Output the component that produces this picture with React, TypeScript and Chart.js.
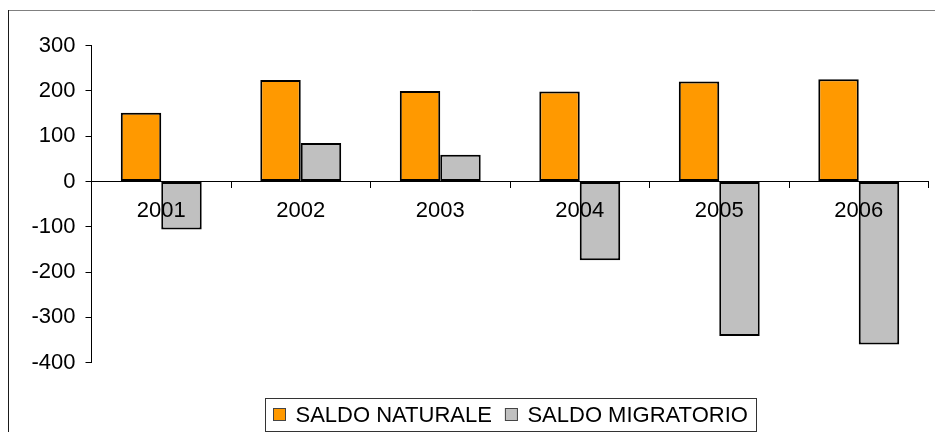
import React, { useEffect, useRef } from 'react';
import { Chart, registerables } from 'chart.js';

Chart.register(...registerables);

const categories = ['2001', '2002', '2003', '2004', '2005', '2006'];
const saldoNaturale = [152, 224, 200, 199, 221, 226];
const saldoMigratorio = [-106, 85, 59, -174, -341, -360];
const seriesLabels = ['SALDO NATURALE', 'SALDO MIGRATORIO'];
const seriesColors = ['#FF9900', '#C0C0C0'];
const yMin = -400;
const yMax = 300;
const yStep = 100;

const FONT = '"Liberation Sans", Arial, Helvetica, sans-serif';

const framePlugin = {
  id: 'frameAndLegend',
  afterDraw(chart: any) {
    const ctx = chart.ctx;
    ctx.save();
    // outer frame (top + left visible)
    ctx.lineWidth = 1;
    ctx.strokeStyle = '#808080';
    ctx.beginPath();
    ctx.moveTo(8, 10.5);
    ctx.lineTo(935, 10.5);
    ctx.stroke();
    ctx.strokeStyle = '#1a1a1a';
    ctx.beginPath();
    ctx.moveTo(8.5, 10);
    ctx.lineTo(8.5, 432);
    ctx.stroke();

    // boxed legend
    ctx.font = `22px ${FONT}`;
    const items = chart.data.datasets.map((ds: any) => ({
      label: ds.label as string,
      color: ds.backgroundColor as string,
      w: ctx.measureText(ds.label).width,
    }));
    const sw = 13;
    const gapText = 9.5;
    const gapItem = 13;
    const pad = 8;
    let total = pad * 2;
    items.forEach((it: any, i: number) => {
      total += sw + gapText + it.w + (i ? gapItem : 0);
    });
    const cx = (chart.chartArea.left + chart.chartArea.right) / 2;
    const x0 = Math.round(cx - total / 2);
    const top = 398.5;
    const bottom = 431.5;
    ctx.strokeStyle = '#333';
    ctx.strokeRect(x0 + 0.5, top, Math.round(total), bottom - top);
    let x = x0 + pad;
    items.forEach((it: any) => {
      ctx.fillStyle = it.color;
      ctx.fillRect(x, 408, sw, sw);
      ctx.strokeStyle = '#444';
      ctx.strokeRect(x + 0.5, 408.5, sw - 1, sw - 1);
      ctx.fillStyle = '#000';
      ctx.textBaseline = 'alphabetic';
      ctx.textAlign = 'left';
      ctx.fillText(it.label, x + sw + gapText, 422);
      x += sw + gapText + it.w + gapItem;
    });
    ctx.restore();
  },
};

export default function App() {
  const ref = useRef<HTMLCanvasElement | null>(null);

  useEffect(() => {
    if (!ref.current) return;
    const chart = new Chart(ref.current, {
      type: 'bar',
      data: {
        labels: categories,
        datasets: [
          {
            label: seriesLabels[0],
            data: saldoNaturale,
            backgroundColor: seriesColors[0],
            borderColor: '#000',
            borderWidth: 2,
            borderSkipped: false,
            categoryPercentage: 0.58,
            barPercentage: 1,
          },
          {
            label: seriesLabels[1],
            data: saldoMigratorio,
            backgroundColor: seriesColors[1],
            borderColor: '#000',
            borderWidth: 2,
            borderSkipped: false,
            categoryPercentage: 0.58,
            barPercentage: 1,
          },
        ],
      },
      options: {
        responsive: false,
        animation: false,
        layout: { padding: { top: 45.7, bottom: 69.3, left: 0, right: 6.5 } },
        plugins: {
          legend: { display: false },
          tooltip: { enabled: false },
        },
        scales: {
          x: {
            type: 'category',
            position: { y: 0 } as any,
            offset: true,
            grid: {
              offset: true,
              drawOnChartArea: false,
              drawTicks: true,
              tickLength: 6,
              color: '#000',
              tickColor: '#000',
              z: 1,
            },
            border: { color: '#000', width: 1, z: 1 } as any,
            ticks: { font: { family: FONT, size: 22 }, color: '#000', padding: 10, maxRotation: 0, z: 2 },
          },
          y: {
            min: yMin,
            max: yMax,
            ticks: { stepSize: yStep, font: { family: FONT, size: 22 }, color: '#000', padding: 10 },
            grid: { drawOnChartArea: false, tickLength: 6, color: '#000', tickColor: '#000' },
            border: { color: '#000', width: 1 },
            afterFit(scale: any) {
              scale.width = 91.5;
            },
          },
        },
      },
      plugins: [framePlugin],
    });
    return () => chart.destroy();
  }, []);

  return (
    <div style={{ position: 'absolute', left: 0, top: 0, width: 935, height: 432, background: '#fff' }}>
      <canvas ref={ref} width={935} height={432} style={{ width: 935, height: 432, display: 'block' }} />
    </div>
  );
}
